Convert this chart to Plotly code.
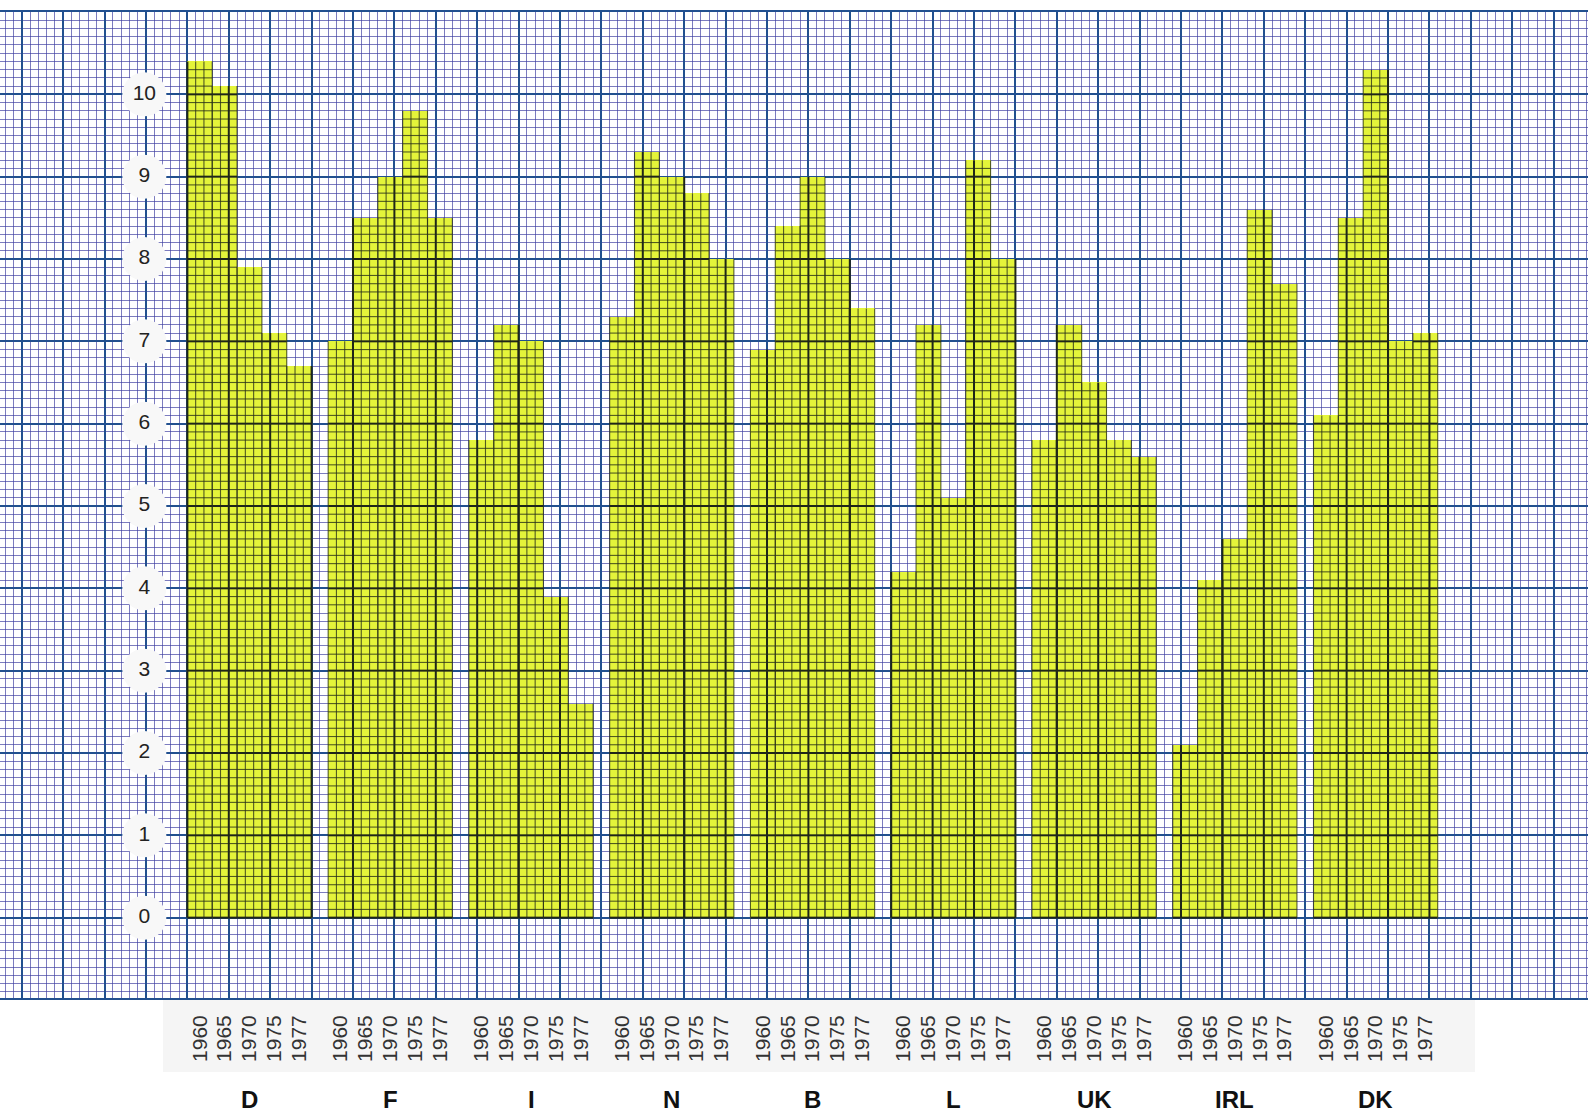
import plotly.graph_objects as go

# ---- data -------------------------------------------------------------
countries = ["D", "F", "I", "N", "B", "L", "UK", "IRL", "DK"]
years = ["1960", "1965", "1970", "1975", "1977"]

vals_D = [10.4, 10.1, 7.9, 7.1, 6.7]
vals_F = [7.0, 8.5, 9.0, 9.8, 8.5]
vals_I = [5.8, 7.2, 7.0, 3.9, 2.6]
vals_N = [7.3, 9.3, 9.0, 8.8, 8.0]
vals_B = [6.9, 8.4, 9.0, 8.0, 7.4]
vals_L = [4.2, 7.2, 5.1, 9.2, 8.0]
vals_UK = [5.8, 7.2, 6.5, 5.8, 5.6]
vals_IRL = [2.1, 4.1, 4.6, 8.6, 7.7]
vals_DK = [6.1, 8.5, 10.3, 7.0, 7.1]

y_ticks = list(range(0, 11))

series = [vals_D, vals_F, vals_I, vals_N, vals_B, vals_L, vals_UK, vals_IRL, vals_DK]

# ---- layout on graph paper: x measured in small squares ----------------
BAR_W = 3          # squares per bar
GROUP_STEP = 17    # squares from one country block to the next
X_RANGE = [-22.63, 169.15]
Y_RANGE = [-0.976, 11.0]

BAR_COLOR = "#e4f43a"
MINOR_GRID = "rgba(62,62,160,0.68)"
MAJOR_GRID = "#22508f"
DARK_MINOR = "rgba(40,48,25,0.78)"
DARK_MAJOR = "#1f2619"

bar_x, bar_y, bar_year = [], [], []
group_centers = []
for g, vals in enumerate(series):
    group_centers.append(g * GROUP_STEP + 2.5 * BAR_W)
    for j, v in enumerate(vals):
        bar_x.append(g * GROUP_STEP + j * BAR_W + BAR_W / 2)
        bar_y.append(v)
        bar_year.append(years[j])

# dark ruling showing through the filled squares
mx, my, Mx, My = [], [], [], []
for cx, v in zip(bar_x, bar_y):
    left, right = cx - BAR_W / 2, cx + BAR_W / 2
    top_k = int(round(v * 10))
    for k in range(0, top_k):
        y = k / 10
        tx, ty = (Mx, My) if k % 10 == 0 else (mx, my)
        tx += [left, right, None]
        ty += [y, y, None]
    for i in range(BAR_W + 1):
        x = left + i
        tx, ty = (Mx, My) if int(round(x)) % 5 == 0 else (mx, my)
        tx += [x, x, None]
        ty += [0, v, None]

fig = go.Figure()

fig.add_trace(go.Bar(
    x=bar_x, y=bar_y, width=BAR_W,
    marker=dict(color=BAR_COLOR, line=dict(width=0)),
    hoverinfo="skip", showlegend=False,
))

fig.add_trace(go.Scatter(
    x=mx, y=my, mode="lines", xaxis="x2",
    line=dict(color=DARK_MINOR, width=1.1),
    hoverinfo="skip", showlegend=False,
))
fig.add_trace(go.Scatter(
    x=Mx, y=My, mode="lines", xaxis="x2",
    line=dict(color=DARK_MAJOR, width=2),
    hoverinfo="skip", showlegend=False,
))

# value scale: numbers set in white discs on the ruling
fig.add_trace(go.Scatter(
    x=[-5.2] * len(y_ticks), y=y_ticks, xaxis="x2",
    mode="markers+text",
    marker=dict(size=44, color="#f8f8f8", line=dict(width=0)),
    text=[str(t) for t in y_ticks], textposition="middle center",
    textfont=dict(family="Liberation Sans, Arial, sans-serif", size=21, color="#222222"),
    cliponaxis=False, hoverinfo="skip", showlegend=False,
))

# grey strip behind the year labels
shapes = [dict(
    type="rect", xref="paper", yref="paper",
    x0=163 / 1588, x1=1475 / 1588, y0=0, y1=-74 / 986,
    fillcolor="#f5f5f5", line=dict(width=0), layer="below",
)]

annotations = [
    dict(x=cx, y=-86 / 986, xref="x", yref="paper", xanchor="center", yanchor="top",
         text=f"<b>{c}</b>", showarrow=False,
         font=dict(family="Liberation Sans, Arial, sans-serif", size=24, color="#111111"))
    for c, cx in zip(countries, group_centers)
]

fig.update_layout(
    width=1588, height=1115,
    margin=dict(l=0, r=0, t=12, b=117, pad=0),
    paper_bgcolor="white", plot_bgcolor="white",
    bargap=0, shapes=shapes, annotations=annotations,
    xaxis=dict(
        range=X_RANGE, tickmode="linear", tick0=0, dtick=5,
        showgrid=True, gridcolor=MAJOR_GRID, gridwidth=2,
        minor=dict(tickmode="linear", tick0=0, dtick=1, showgrid=True,
                   gridcolor=MINOR_GRID, gridwidth=1),
        showticklabels=False, ticks="", zeroline=False,
        showline=True, mirror=True, linecolor=MAJOR_GRID, linewidth=2,
        fixedrange=True,
    ),
    xaxis2=dict(
        range=X_RANGE, overlaying="x", anchor="y", side="bottom",
        tickmode="array", tickvals=bar_x, ticktext=bar_year, tickangle=-90,
        tickfont=dict(family="Liberation Sans, Arial, sans-serif", size=21, color="#333333"),
        ticks="", showgrid=False, zeroline=False, showline=False,
        ticklabelstandoff=12, fixedrange=True,
    ),
    yaxis=dict(
        range=Y_RANGE, tickmode="linear", tick0=0, dtick=1,
        showgrid=True, gridcolor=MAJOR_GRID, gridwidth=2,
        minor=dict(tickmode="linear", tick0=0, dtick=0.1, showgrid=True,
                   gridcolor=MINOR_GRID, gridwidth=1),
        showticklabels=False, ticks="", zeroline=False, fixedrange=True,
    ),
)

fig.write_html("out.html")
